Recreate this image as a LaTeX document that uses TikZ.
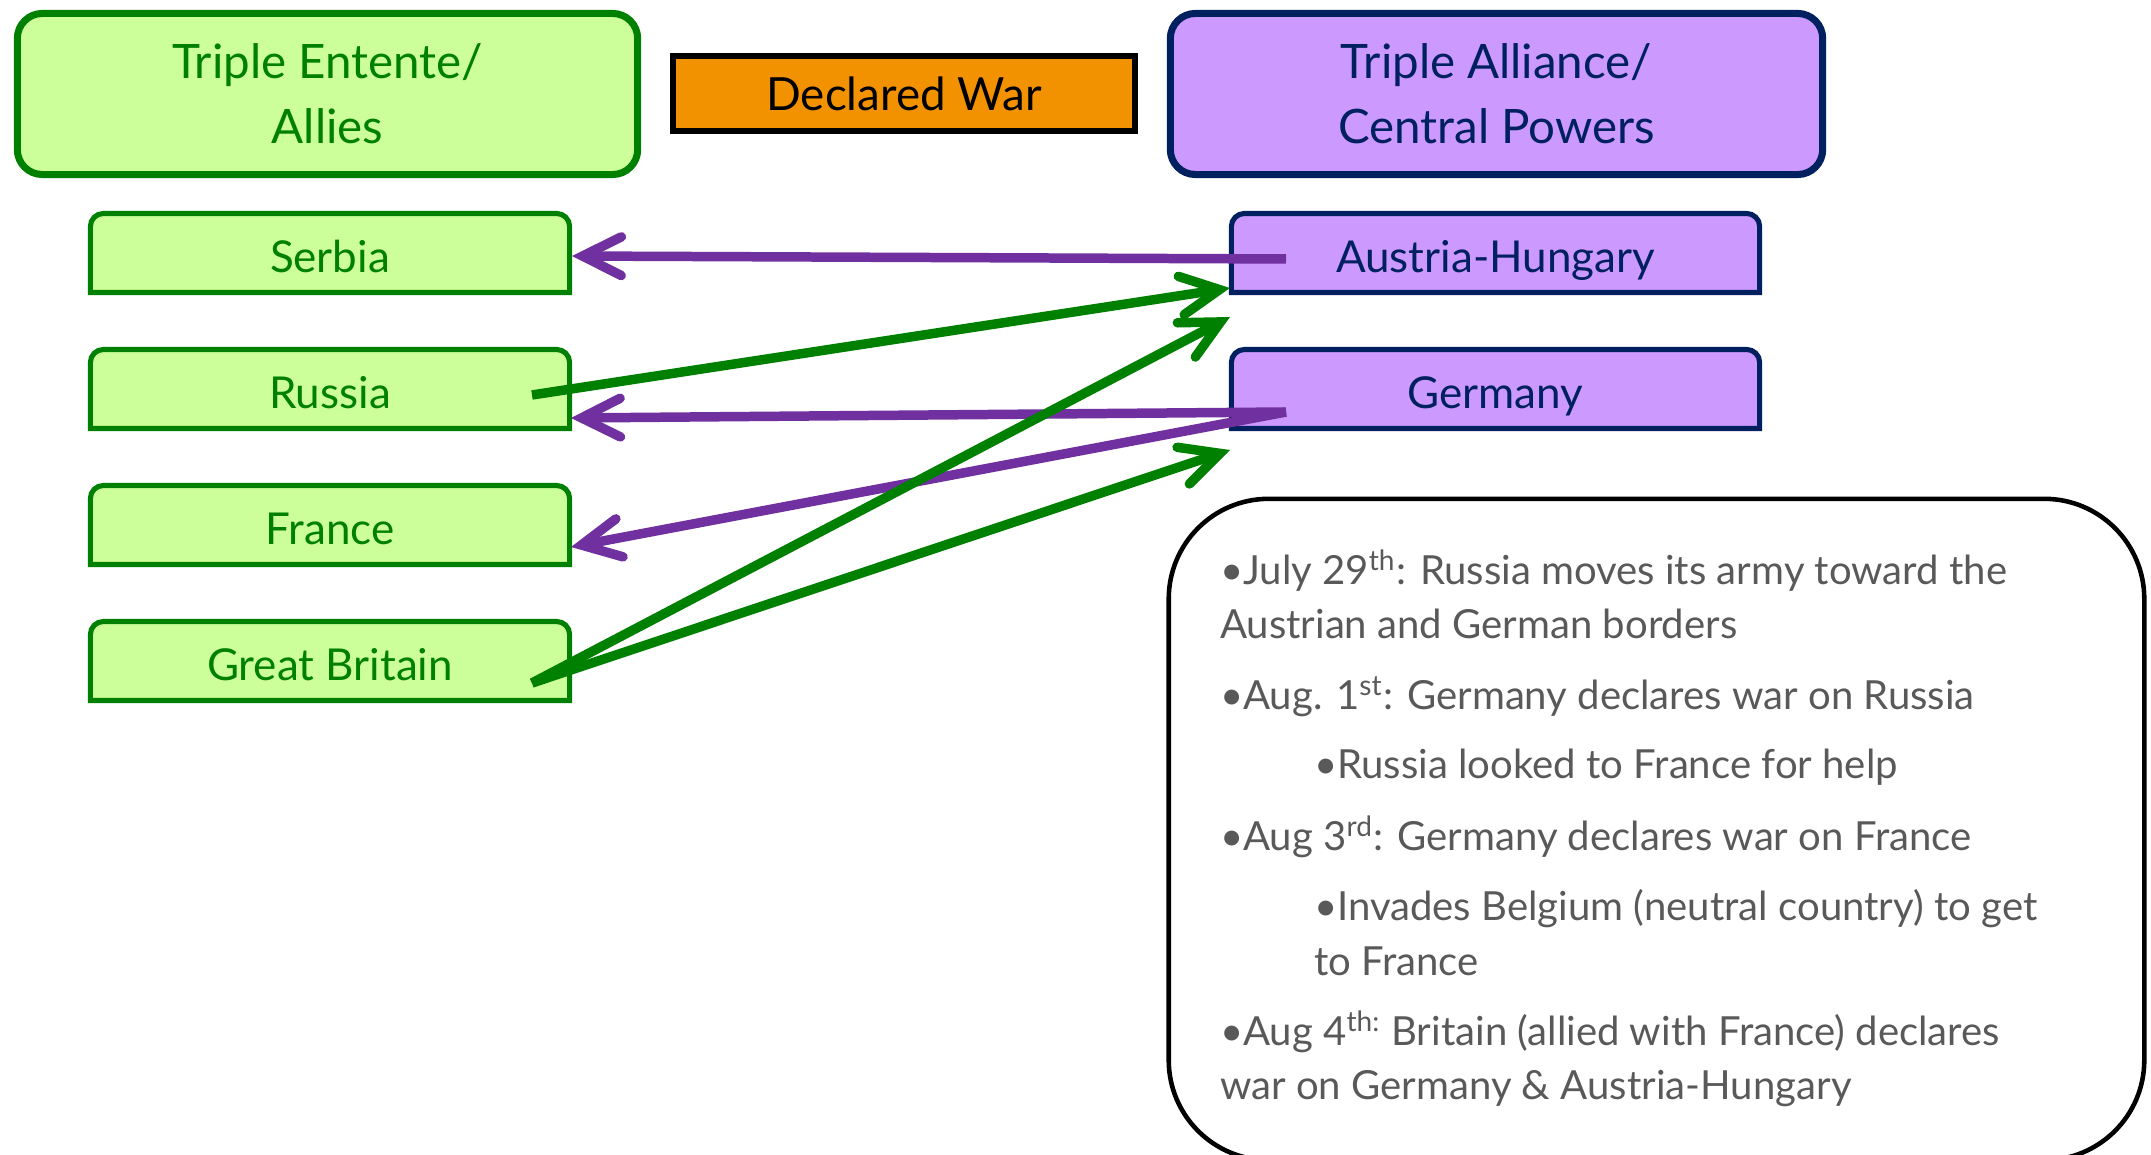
\documentclass[tikz,border=0pt]{standalone}
\usepackage{fontspec}
\setmainfont{Lato}
\usetikzlibrary{arrows.meta,backgrounds}
\definecolor{entfill}{HTML}{CCFF99}
\definecolor{entline}{HTML}{008000}
\definecolor{allfill}{HTML}{CC99FF}
\definecolor{allline}{HTML}{002060}
\definecolor{warfill}{HTML}{F39200}
\definecolor{arrpurple}{HTML}{7030A0}
\definecolor{arrgreen}{HTML}{008000}
\definecolor{bodygray}{HTML}{595959}
\newcommand\toprnd[3]{\path[#2] (#1.south west) -- ([yshift=-#3]#1.north west) arc[start angle=180,end angle=90,radius=#3] -- ([xshift=-#3]#1.north east) arc[start angle=90,end angle=0,radius=#3] -- (#1.south east) -- cycle;}
\tikzset{
  every node/.style={inner sep=0pt, outer sep=0pt},
  titlebox/.style={rounded corners=2.5mm, line width=2pt, minimum height=16.1mm, align=center,
    font=\fontsize{13.5}{18.5}\selectfont},
  entbox/.style={titlebox, fill=entfill, draw=entline, text=entline, minimum width=62.0mm},
  allbox/.style={titlebox, fill=allfill, draw=allline, text=allline, minimum width=65.2mm},
  warbox/.style={fill=warfill, draw=black, line width=1.7pt, minimum width=46.2mm, minimum height=7.5mm,
    font=\fontsize{13}{15}\selectfont},
  countrytext/.style={text height=4.0mm, text depth=0.2mm, font=\fontsize{12.5}{15}\selectfont},
  leftbox/.style={countrytext, minimum width=47.9mm, minimum height=7.9mm, text=entline},
  rightbox/.style={countrytext, minimum width=52.8mm, minimum height=7.9mm, text=allline},
  gshape/.style={fill=entfill, draw=entline, line width=1.45pt},
  pshape/.style={fill=allfill, draw=allline, line width=1.45pt},
  parr/.style={draw=arrpurple, line width=2.7pt, -{Straight Barb[length=11pt,width=11pt,line cap=round]}},
  garr/.style={draw=arrgreen, line width=2.7pt, -{Straight Barb[length=11pt,width=11pt,line cap=round]}},
  notebox/.style={draw=black, line width=1.3pt, rounded corners=10mm, minimum width=97.5mm, minimum height=66.1mm},
  bodytxt/.style={anchor=base west, text=bodygray, font=\fontsize{11.4}{13}\selectfont}
}
\begin{document}
\begin{tikzpicture}[x=0.01cm,y=0.01cm]
\useasboundingbox (0,0) rectangle (2151,-1155);
\clip (0,0) rectangle (2151,-1155);

% title boxes
\node[entbox] (entente) at (327.5,-94) {Triple Entente/\\Allies};
\node[warbox] (war) at (904,-93.5) {Declared War};
\node[allbox] (alliance) at (1496.5,-94) {Triple Alliance/\\Central Powers};

% country nodes
\node[leftbox] (serbia) at (330,-253) {Serbia};
\node[leftbox] (russia) at (330,-389) {Russia};
\node[leftbox] (france) at (330,-525) {France};
\node[leftbox] (britain) at (330,-661) {Great Britain};
\node[rightbox] (austria) at (1495.5,-253) {Austria-Hungary};
\node[rightbox] (germany) at (1495.5,-389) {Germany};

\begin{scope}[on background layer]
\toprnd{serbia}{gshape}{1.3mm}
\toprnd{russia}{gshape}{1.3mm}
\toprnd{france}{gshape}{1.3mm}
\toprnd{britain}{gshape}{1.3mm}
\toprnd{austria}{pshape}{1.3mm}
\toprnd{germany}{pshape}{1.3mm}
\end{scope}

% arrow end points
\coordinate (ahS) at (1286,-259);
\coordinate (geS) at (1286,-412);
\coordinate (ruS) at (532,-395);
\coordinate (gbS) at (532,-683);
\coordinate (serT) at (572,-256);
\coordinate (ruT) at (571,-418);
\coordinate (frT) at (571,-547);
\coordinate (ahT1) at (1230,-288);
\coordinate (ahT2) at (1230,-317);
\coordinate (geT) at (1230,-450);

\draw[parr] (ahS) -- (serT);
\draw[parr] (geS) -- (ruT);
\draw[parr] (geS) -- (frT);
\draw[garr] (ruS) -- (ahT1);
\draw[garr] (gbS) -- (ahT2);
\draw[garr] (gbS) -- (geT);

% notes
\node[notebox] (notes) at (1656.5,-829.5) {};
\node[bodytxt] (t1) at (1220,-584) {•July 29\textsuperscript{th}: Russia moves its army toward the};
\node[bodytxt] (t2) at (1220,-639) {Austrian and German borders};
\node[bodytxt] (t3) at (1220,-709) {•Aug. 1\textsuperscript{st}: Germany declares war on Russia};
\node[bodytxt] (t4) at (1314,-778) {•Russia looked to France for help};
\node[bodytxt] (t5) at (1220,-850) {•Aug 3\textsuperscript{rd}: Germany declares war on France};
\node[bodytxt] (t6) at (1314,-920) {•Invades Belgium (neutral country) to get};
\node[bodytxt] (t7) at (1314,-975) {to France};
\node[bodytxt] (t8) at (1220,-1045) {•Aug 4\textsuperscript{th:} Britain (allied with France) declares};
\node[bodytxt] (t9) at (1220,-1099) {war on Germany \& Austria-Hungary};
\end{tikzpicture}
\end{document}
